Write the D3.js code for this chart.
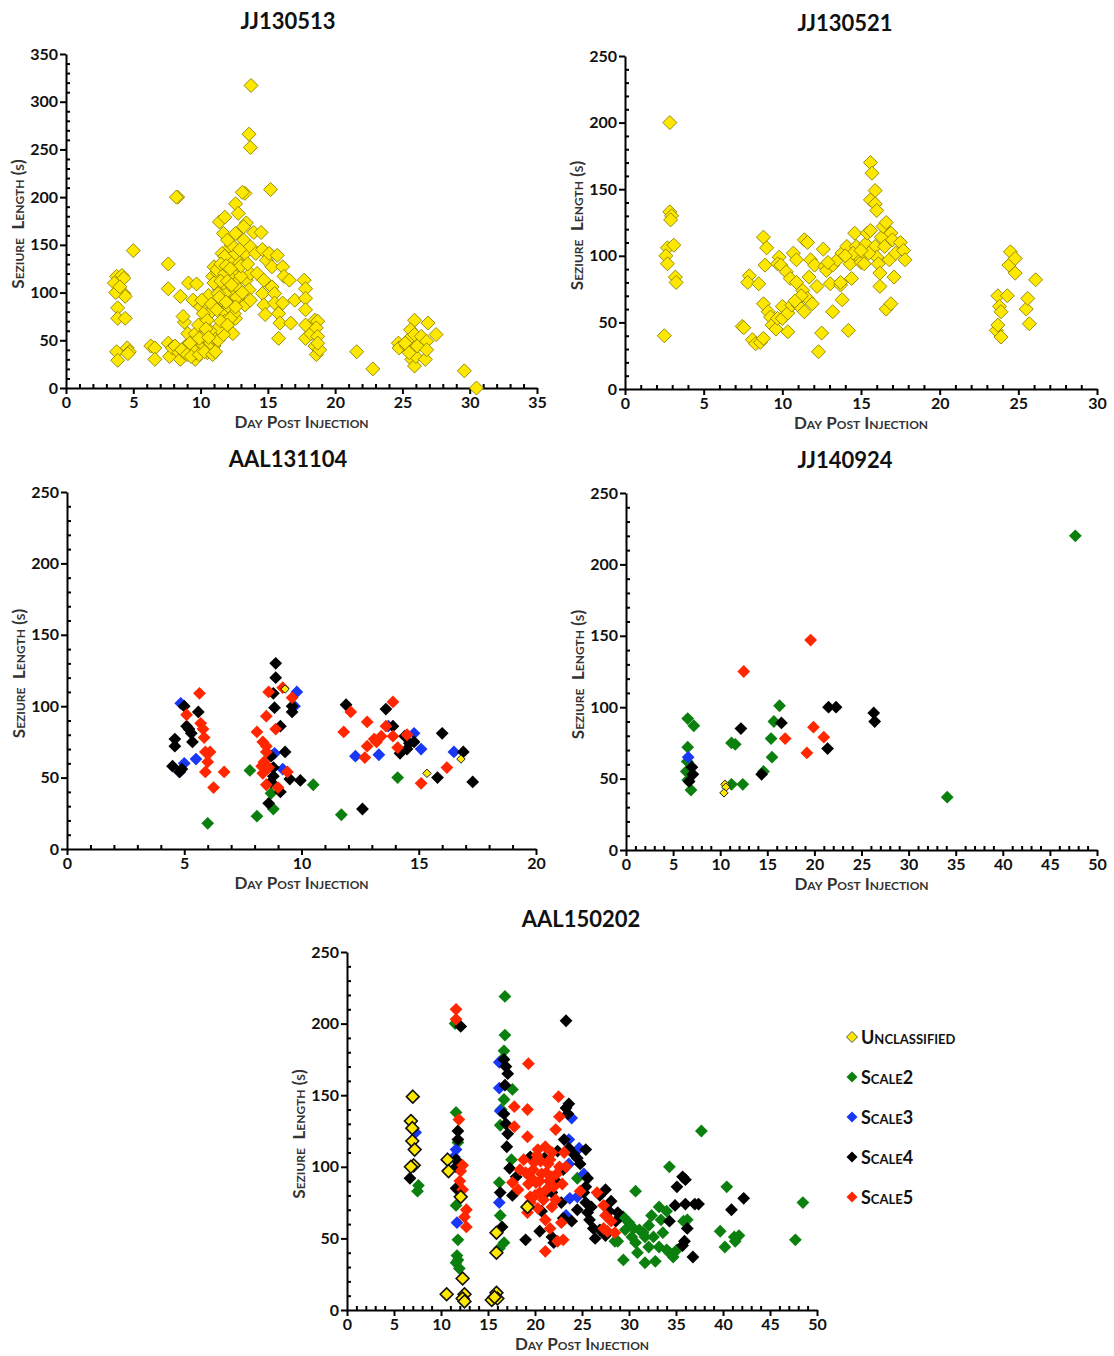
<!DOCTYPE html>
<html>
<head>
<meta charset="utf-8">
<script src="https://cdn.jsdelivr.net/npm/d3@7"></script>
<style>
  html, body { margin: 0; padding: 0; background: #fff; }
  svg { display: block; font-family: Lato, "Open Sans", sans-serif; }
  .title { font-weight: 700; font-size: 22px; fill: #111; }
  .ticklab { font-weight: 700; font-size: 16px; fill: #111; }
  .axlab { font-weight: 700; font-size: 17px; fill: #333; font-variant: small-caps; }
  .leg { font-weight: 700; font-size: 18px; fill: #111; font-variant: small-caps; }
</style>
</head>
<body>
<svg id="chart" width="1114" height="1356"></svg>
<script>
// ---- series names and colours ----
const seriesNames = ["Unclassified", "Scale2", "Scale3", "Scale4", "Scale5"];
const seriesColors = ["#ffe800", "#0c800f", "#1838f5", "#000000", "#ff2600"];

// ---- JJ130513 (day post injection, seizure length s) ----
const jj130513Unclassified = [
  [3.76,117],[4.16,118],[4.3,115],[3.6,110],[3.9,103],[4.3,99],[4.4,96],[3.7,100],[4.0,106],
  [3.84,84],[3.84,73],[4.4,73],[3.76,38],[3.84,29],[4.55,42],[4.7,38],[4.6,36],[5.0,144],
  [6.3,44],[6.6,42],[6.6,30],[7.6,130],[7.6,104],[8.3,200],
  [7.6,47],[7.7,33],[7.9,42],[8.1,44],[8.4,37],[8.5,30],
  [8.5,96],[8.8,69],[8.7,75],[9.1,110],[9.7,109],[9.05,57],[9.2,40],[9.6,30],[9.85,44],[9.45,92],
  [10,85],[10.1,68],[10.4,50],[10.5,37],[10.8,47],[11.0,57],[11.0,44],[11.3,50],[10.6,97],[10.8,80],
  [10.9,117],[11.3,120],[11.0,127],[11.4,103],[11.6,92],[11.7,80],[11.8,70],[12.1,61],[12.4,57],
  [11.4,174],[11.8,179],[11.7,162],[12.1,146],[12.2,134],[12.4,120],[12.5,110],[12.6,103],[12.8,91],[12.6,73],
  [12.6,193],[12.8,183],[13.3,204],[13.4,173],[13.2,155],[13.3,141],[13.4,113],[13.3,87],[13.7,148],[13.95,163],
  [13.7,120],[14.5,163],[14.1,141],[14.2,120],[14.6,145],[14.9,134],[14.7,113],[14.6,99],[14.7,87],[14.8,77],
  [15.1,141],[15.3,127],[15.3,106],[15.5,99],[15.7,139],[16.1,127],[16.2,117],[15.5,89],[15.8,78],[15.9,68],
  [15.8,52],[16.1,89],[16.6,113],[16.7,68],[17.0,92],[17.7,113],[17.8,104],[17.8,94],[17.8,82],[17.8,66],
  [17.8,52],[18.2,57],[18.5,71],[18.7,70],[18.6,63],[18.7,54],[18.5,44],[18.6,35],[18.85,40],[18.7,47],
  [11.6,141],[11.8,138],[11.2,124],[12.1,117],[12.4,99],[11.8,99],[12.1,85],[12.5,78],[11.7,56],[11.3,63],
  [10.9,40],[10.5,44],[10.2,40],[10.0,42],[9.7,37],[9.45,40],[8.9,44],[8.8,37],[9.2,47],[9.6,57],
  [9.85,66],[10.2,78],[10.5,71],[10.1,92],[11,110],[11.3,99],[11.7,110],[11.8,120],[12.6,141],[12.9,131],
  [13,117],[12.9,103],[13.6,103],[13.7,92],[13.2,169],[12.6,162],[13.75,317],[13.6,266],[13.7,252],
  [8.2,200],[13.1,205],[15.2,208],[12.3,150],[12.0,155],[13.0,128],[11.5,112],[10.7,60],[10.3,55],
  [11.5,130],[11.9,128],[12.2,125],[12.0,112],[12.3,108],[11.4,95],[12.7,95],[11.9,90],[12.6,85],[10.8,88],
  [11.2,82],[12.2,73],[10.4,62],[9.9,52],[10.6,53],[11.5,70],[13.1,100],[8.6,40],[9.0,35],[9.3,33],
  [9.9,35],[10.3,38],[10.9,35],[11.1,38],[12.0,66],[12.9,145],[13.5,130],
  [21.6,38],[22.8,20],[24.7,47],[24.75,42],[25.3,44],[25.4,50],[25.6,37],[25.7,30],[25.9,23],[25.9,71],
  [25.6,61],[25.9,56],[26,33],[26.1,44],[26.4,54],[26.7,30],[26.9,68],[26.8,49],[26.8,40],[27.5,56],
  [25.2,47],[25.5,37],[29.6,18],[30.5,0]
];

// ---- JJ130521 ----
const jj130521Unclassified = [
  [2.85,200],[2.85,133],[2.96,130],[2.9,127],[2.7,106],[2.6,100],[2.7,94],[3.1,108],[3.2,84],[3.25,80],[2.5,40],
  [7.45,47],[7.55,46],[7.9,85],[7.8,80],[8.5,79],[8.1,37],[8.3,34],[8.6,35],[8.8,38],[8.8,114],[9.0,106],
  [8.9,93],[8.8,64],[9.1,58],[9.25,54],[9.35,48],[9.6,45],[9.7,53],[9.8,99],[9.7,94],[9.9,93],[10,62],
  [10,53],[10.25,88],[10.35,57],[10.5,83],[10.35,43],[10.6,63],[10.7,102],[10.9,97],[10.9,80],[11,63],
  [11.3,74],[11.4,58],[11.4,112],[11.6,110],[11.7,84],[11.6,68],[11.8,97],[11.9,64],[12.05,93],[12.2,77],
  [12.3,28],[12.5,42],[12.6,105],[12.7,92],[12.8,89],[13.05,79],[13.2,58],[13.2,93],[13.5,97],[13.7,78],
  [13.8,102],[13.8,67],[14.1,107],[14.2,44],[14.4,83],[14.3,94],[14.6,117],[14.7,107],[14.85,99],[15.0,95],
  [15.2,102],[15.3,109],[15.4,117],[15.6,119],[15.6,170],[15.7,162],[15.9,149],[15.6,142],[15.9,139],[16.0,134],
  [15.9,107],[16,99],[16.1,94],[16.2,87],[16.3,114],[16.4,122],[16.6,125],[16.5,107],[16.8,97],[16.9,117],
  [17.0,112],[17.1,84],[17.2,102],[17.5,110],[17.7,104],[17.8,97],[16.6,60],[16.9,64],[16.2,77],[15.2,94],
  [15.5,102],[14.5,102],[13.7,80],[11.2,70],[10.8,66],[12.9,95],[14.0,100],[15.0,104],
  [23.7,70],[23.8,62],[23.9,58],[23.6,44],[23.7,48],[23.9,39],[24.3,70],[24.5,103],[24.4,93],[24.8,98],
  [24.8,87],[25.5,60],[25.6,68],[25.7,49],[26.1,82]
];

// ---- AAL131104 ----
const aal131104Unclassified = [[15.35,53],[16.8,63],[9.3,112]];
const aal131104Scale2 = [[6.0,18],[7.8,55],[8.1,23],[8.8,28],[8.7,39],[10.5,45],[11.7,24],[14.1,50]];
const aal131104Scale3 = [[4.85,102],[5.0,60],[4.8,54],[5.5,63],[9.8,110],[9.7,100],[9.2,56],[8.85,67],
  [14.8,81],[15.1,70],[12.3,65],[13.3,66],[16.5,68],[13.7,86]];
const aal131104Scale4 = [[4.6,77],[4.6,72],[4.5,58],[4.9,56],[4.8,54],[5.0,100],[5.1,86],[5.2,84],[5.3,81],
  [5.35,75],[5.6,96],[8.9,130],[8.9,120],[8.8,109],[8.85,99],[9.1,86],[9.3,68],[8.7,65],[8.8,57],[8.8,51],
  [8.7,47],[9.1,40],[8.6,32],[9.5,49],[9.95,48],[9.6,100],[9.6,96],[11.9,101],[12.6,28],[13.6,98],[13.9,86],
  [14.2,67],[14.4,79],[14.6,74],[14.8,75],[14.5,70],[16.0,81],[16.9,68],[15.8,50],[17.3,47]];
const aal131104Scale5 = [[5.65,109],[5.1,94],[5.7,88],[5.8,84],[5.85,78],[5.9,68],[6.0,61],[5.9,54],[6.25,43],
  [6.7,54],[6.1,68],[8.6,110],[8.5,93],[8.1,82],[8.35,75],[8.5,68],[8.4,61],[8.35,53],[8.5,45],[9.0,43],[9.2,113],
  [9.6,106],[9.4,54],[8.9,84],[8.6,57],[8.3,58],[8.5,72],[11.8,82],[12.1,96],[12.8,89],[12.7,64],[12.8,72],[13.1,77],
  [13.4,79],[13.6,86],[13.9,103],[13.9,79],[14.1,71],[14.5,80],[15.1,46],[16.2,57],[13.2,75]];

// ---- JJ140924 ----
const jj140924Unclassified = [[10.5,46],[10.6,44],[10.4,40]];
const jj140924Scale2 = [[47.7,220],[6.55,92],[7.2,87],[6.55,72],[6.5,62],[6.4,55],[6.55,49],[6.9,42],
  [11.2,75],[11.6,74],[11.2,46],[12.4,46],[14.6,55],[16.3,101],[15.7,90],[15.4,78],[15.5,65],[34.1,37]];
const jj140924Scale3 = [[6.6,65]];
const jj140924Scale4 = [[7.0,58],[7.1,53],[6.7,48],[12.2,85],[14.4,53],[16.5,89],[21.5,100],[22.3,100],
  [21.4,71],[26.3,96],[26.4,90]];
const jj140924Scale5 = [[12.5,125],[19.6,147],[16.9,78],[19.9,86],[21.0,79],[19.2,68]];

// ---- AAL150202 ----
const aal150202Unclassified = [[7.0,149],[6.8,132],[6.95,127],[6.95,118],[7.2,112],[7.1,101],[6.8,100],
  [10.7,105],[10.8,97],[10.6,11],[12.1,79],[12.3,22],[12.5,11],[12.3,8],[12.5,6],[15.4,7],[15.9,12],[16.0,8],
  [15.7,9],[15.9,40],[15.9,54],[19.2,72]];
const aal150202Scale2 = [[16.8,219],[16.8,192],[16.7,181],[16.5,175],[17.6,154],[16.7,147],[16.3,129],[16.4,140],
  [17.5,105],[16.2,89],[16.3,66],[16.2,43],[16.7,47],[11.6,138],[11.8,117],[11.6,73],[11.8,49],[11.7,38],
  [11.8,35],[11.95,29],[11.6,33],[7.6,87],[7.5,83],[24.5,92],[30.7,83],[37.7,125],[34.3,100],[40.4,86],
  [48.5,75],[47.7,49],[39.7,55],[40.2,44],[41.2,51],[41.7,52],[41.3,48],[29.4,35],[30.9,40],[31.7,33],
  [32.8,34],[34.3,40],[34.7,37],[29.4,65],[30.0,61],[30.5,57],[31.1,56],[31.5,54],[32.1,59],[32.4,66],
  [33.2,72],[33.4,63],[34,69],[32.6,51],[33.2,44],[33.6,54],[34,42],[32.1,44],[31.7,51],[30.7,47],
  [35.8,62],[36.2,63],[28.5,48],[28.8,48],[35.1,42],[30.3,51],[29.6,56],[11.5,200]];
const aal150202Scale3 = [[7.3,124],[11.6,112],[11.4,107],[11.7,61],[16.2,173],[16.2,155],[16.3,139],[16.2,75],
  [23.9,134],[23.6,119],[24.7,113],[23.6,102],[25.2,95],[23.7,78],[23.3,66],[24.5,79]];
const aal150202Scale4 = [[6.7,92],[11.8,125],[11.8,119],[11.6,105],[11.6,100],[11.6,85],[12.1,198],[16.5,58],
  [16.3,82],[16.7,175],[16.9,170],[17.1,165],[16.8,157],[16.7,137],[16.9,130],[17.1,123],[17.0,114],[17.3,99],
  [17.6,80],[23.3,202],[23.6,144],[23.3,141],[23.5,137],[23.1,119],[23.6,113],[24.1,109],[24.5,106],[24.8,102],
  [25.4,112],[25.6,92],[25.4,86],[25.2,82],[25.4,75],[25.6,68],[25.8,63],[26.2,57],[26.9,56],[26,72],
  [26.9,80],[27.5,84],[28.1,76],[27.9,69],[26.4,50],[27.5,52],[28.8,68],[28.6,62],[22.8,75],[23.0,64],
  [21.8,51],[22.0,47],[20.5,55],[20.7,69],[19.0,49],[24.5,70],[23.9,62],[34.3,62],[35.1,86],[35.7,93],
  [36,91],[36.2,57],[35.7,45],[35.9,48],[36.8,37],[36,74],[34.9,73],[37,74],[37.4,74],[40.9,70],[42.2,78],
  [22.4,111],[23.0,98],[22.4,89],[21.8,82],[21.2,82],[18.0,93],[19.5,107],[21.0,106]];
const aal150202Scale5 = [[11.6,210],[11.6,203],[11.9,133],[12.3,101],[12.1,97],[12.0,90],[12.7,70],[12.5,65],
  [12.7,58],[12.3,84],[19.3,172],[19.2,140],[17.8,142],[17.8,128],[19.2,121],[22.5,149],[22.6,135],[22.2,126],
  [17.6,89],[18.2,84],[19.2,68],[19.5,79],[19.9,103],[20.3,112],[20.7,95],[21.2,84],[21.1,63],[21.1,41],
  [21.6,57],[22.4,48],[23,49],[22.8,61],[22.2,77],[21.8,93],[22.6,100],[23.1,110],[18.8,105],[18.4,98],
  [19.5,93],[20.1,89],[20.5,82],[21.4,102],[22.0,86],[21.1,114],[21.8,110],[24.8,83],[26.6,82],[27.3,73],
  [27.5,66],[27.7,55],[27.3,57],[28.5,54],[28.1,62],[19.5,75],[20.3,71],[19.3,88],[20.5,90],[21.2,96],
  [19.8,98],[20.6,104],[21.5,90],[22.3,95],[20.0,80],[21.8,72],[20.9,77],[19.0,96],[22.9,88],[23.3,100],
  [20.2,108],[21.6,105]];

// ---- axis ticks ----
const dayTicks35 = [0,5,10,15,20,25,30,35];
const dayTicks30 = [0,5,10,15,20,25,30];
const dayTicks20 = [0,5,10,15,20];
const dayTicks50 = [0,5,10,15,20,25,30,35,40,45,50];
const lenTicks350 = [0,50,100,150,200,250,300,350];
const lenTicks250 = [0,50,100,150,200,250];

const svg = d3.select("#chart");

// Panel layout: plot box, title centre, axis extents and the series it carries.
const panels = [
  { title: "JJ130513", titleX: 288, box: [66, 537, 54, 388], xMax: 35, yMax: 350, xTicks: dayTicks35, yTicks: lenTicks350,
    series: [{ idx: 0, data: jj130513Unclassified, style: "pale" }] },
  { title: "JJ130521", titleX: 845, box: [625, 1097, 56, 389], xMax: 30, yMax: 250, xTicks: dayTicks30, yTicks: lenTicks250,
    series: [{ idx: 0, data: jj130521Unclassified, style: "pale" }] },
  { title: "AAL131104", titleX: 288, box: [67, 536, 492, 849], xMax: 20, yMax: 250, xTicks: dayTicks20, yTicks: lenTicks250,
    series: [
      { idx: 1, data: aal131104Scale2 }, { idx: 2, data: aal131104Scale3 }, { idx: 3, data: aal131104Scale4 },
      { idx: 4, data: aal131104Scale5 }, { idx: 0, data: aal131104Unclassified, style: "small" }] },
  { title: "JJ140924", titleX: 845, box: [626, 1097, 493, 850], xMax: 50, yMax: 250, xTicks: dayTicks50, yTicks: lenTicks250,
    series: [
      { idx: 1, data: jj140924Scale2 }, { idx: 2, data: jj140924Scale3 }, { idx: 3, data: jj140924Scale4 },
      { idx: 4, data: jj140924Scale5 }, { idx: 0, data: jj140924Unclassified, style: "small" }] },
  { title: "AAL150202", titleX: 581, box: [347, 817, 952, 1310], xMax: 50, yMax: 250, xTicks: dayTicks50, yTicks: lenTicks250,
    series: [
      { idx: 1, data: aal150202Scale2 }, { idx: 2, data: aal150202Scale3 }, { idx: 3, data: aal150202Scale4 },
      { idx: 4, data: aal150202Scale5 }, { idx: 0, data: aal150202Unclassified, style: "bold" }] }
];

function diamond(h) {
  return `M0,${-h}L${h},0L0,${h}L${-h},0Z`;
}

panels.forEach(p => {
  const [x0, x1, y0, y1] = p.box;
  const x = d3.scaleLinear().domain([0, p.xMax]).range([x0, x1]);
  const y = d3.scaleLinear().domain([0, p.yMax]).range([y1, y0]);
  const g = svg.append("g");

  // title
  g.append("text").attr("class", "title").attr("x", p.titleX).attr("y", y0 - 25)
    .attr("text-anchor", "middle").text(p.title);

  // minor ticks (inside)
  const xMinor = d3.range(0, p.xMax + 0.001, 1).filter(v => v % 5 !== 0);
  const yMinor = d3.range(0, p.yMax + 0.001, 10).filter(v => v % 50 !== 0);
  g.append("g").attr("transform", `translate(0,${y1})`)
    .call(d3.axisBottom(x).tickValues(xMinor).tickSize(-4).tickFormat(""))
    .call(a => a.select(".domain").remove())
    .call(a => a.selectAll("line").attr("stroke", "#000").attr("stroke-width", 2));
  g.append("g").attr("transform", `translate(${x0},0)`)
    .call(d3.axisLeft(y).tickValues(yMinor).tickSize(-4).tickFormat(""))
    .call(a => a.select(".domain").remove())
    .call(a => a.selectAll("line").attr("stroke", "#000").attr("stroke-width", 2));

  // major axes
  const xa = g.append("g").attr("transform", `translate(0,${y1})`)
    .call(d3.axisBottom(x).tickValues(p.xTicks).tickSize(6).tickSizeOuter(0).tickPadding(3));
  const ya = g.append("g").attr("transform", `translate(${x0},0)`)
    .call(d3.axisLeft(y).tickValues(p.yTicks).tickSize(6).tickSizeOuter(0).tickPadding(2));
  [xa, ya].forEach(a => {
    a.select(".domain").attr("stroke", "#000").attr("stroke-width", 2);
    a.selectAll("line").attr("stroke", "#000").attr("stroke-width", 2);
    a.selectAll("text").attr("class", "ticklab").attr("fill", null);
    a.attr("font-family", null).attr("font-size", null);
  });

  // axis titles
  g.append("text").attr("class", "axlab").attr("x", (x0 + x1) / 2).attr("y", y1 + 40)
    .attr("text-anchor", "middle").text("Day Post Injection");
  g.append("text").attr("class", "axlab")
    .attr("transform", `translate(${x0 - 42},${(y0 + y1) / 2 + 3}) rotate(-90)`)
    .attr("text-anchor", "middle").text("Seziure\u2002Length (s)");

  // markers
  p.series.forEach(s => {
    const col = seriesColors[s.idx];
    let h = 6.4, stroke = col, sw = 0;
    if (s.style === "pale") { h = 7; stroke = "#8a8000"; sw = 0.9; }
    if (s.style === "small") { h = 4.2; stroke = "#222"; sw = 1; }
    if (s.style === "bold") { h = 6.4; stroke = "#111"; sw = 1.6; }
    g.append("g").selectAll("path").data(s.data).join("path")
      .attr("d", diamond(h))
      .attr("transform", d => `translate(${x(d[0])},${y(d[1])})`)
      .attr("fill", col)
      .attr("stroke", sw ? stroke : "none")
      .attr("stroke-width", sw);
  });
});

// legend for the classification colours
const legend = svg.append("g").attr("transform", "translate(852,1037)");
seriesNames.forEach((name, i) => {
  const row = legend.append("g").attr("transform", `translate(0,${i * 40})`);
  row.append("path").attr("d", diamond(5.5))
    .attr("fill", seriesColors[i])
    .attr("stroke", i === 0 ? "#555" : "none").attr("stroke-width", i === 0 ? 1 : 0);
  row.append("text").attr("class", "leg").attr("x", 9).attr("y", 7).text(name);
});
</script>
</body>
</html>
